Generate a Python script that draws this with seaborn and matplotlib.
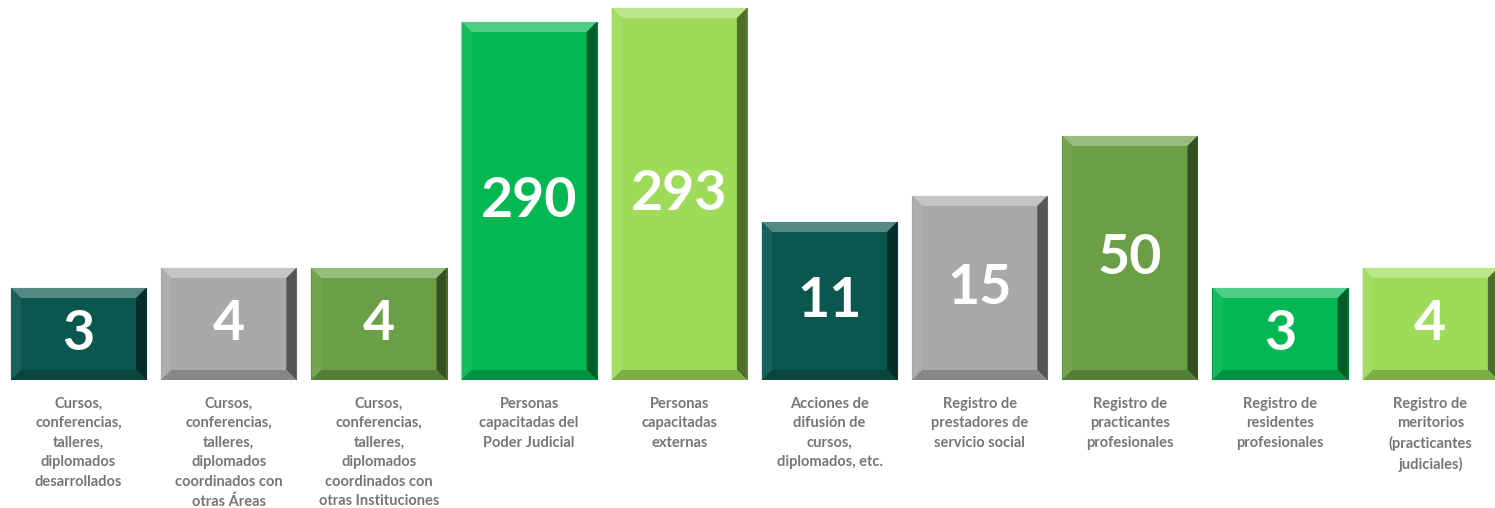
import numpy as np
import pandas as pd
import seaborn as sns
import matplotlib
matplotlib.use("Agg")
import matplotlib.pyplot as plt
from matplotlib.patches import Polygon
from matplotlib.colors import to_rgb

# Categorias (texto de cada barra)
categorias = [
    "Cursos,\nconferencias,\ntalleres,\ndiplomados\ndesarrollados",
    "Cursos,\nconferencias,\ntalleres,\ndiplomados\ncoordinados con\notras Áreas",
    "Cursos,\nconferencias,\ntalleres,\ndiplomados\ncoordinados con\notras Instituciones",
    "Personas\ncapacitadas del\nPoder Judicial",
    "Personas\ncapacitadas\nexternas",
    "Acciones de\ndifusión de\ncursos,\ndiplomados, etc.",
    "Registro de\nprestadores de\nservicio social",
    "Registro de\npracticantes\nprofesionales",
    "Registro de\nresidentes\nprofesionales",
    "Registro de\nmeritorios\n(practicantes\njudiciales)",
]

# Valores que se muestran dentro de cada barra
valores = [3, 4, 4, 290, 293, 11, 15, 50, 3, 4]

# Altura visual de cada barra (la grafica original no es proporcional),
# leida de la imagen en unidades arbitrarias
altura_visual = [92, 112, 112, 358, 372, 158, 184, 244, 92, 112]

# Paleta: se repiten 5 colores
colores = ["#0a574f", "#a9a9a9", "#6a9f46", "#03b752", "#9edb59",
           "#0a574f", "#a9a9a9", "#6a9f46", "#03b752", "#9edb59"]

df = pd.DataFrame({"categoria": categorias, "altura": altura_visual, "valor": valores})


def mezclar(c, otro, t):
    # mezcla lineal entre dos colores
    a = np.array(to_rgb(c))
    b = np.array(to_rgb(otro))
    return tuple(a * (1 - t) + b * t)


sns.set_style("white")
plt.rcParams["font.family"] = ["Lato", "DejaVu Sans"]

fig = plt.figure(figsize=(14.95, 5.08), dpi=100)
# Ejes ocupando todo el ancho, base de las barras a 128 px del borde inferior
ax = fig.add_axes([0, 128 / 508, 1, 380 / 508])

sns.barplot(data=df, x="categoria", y="altura", hue="categoria",
            palette=colores, width=0.9, legend=False, saturation=1,
            linewidth=0, ax=ax)

ax.set_xlim(-0.523, 9.431)
ax.set_ylim(0, 380)

# Efecto "bisel" en cada barra
px_x = 150.2  # pixeles por unidad en x
bisel = 10
for patch, col, val in zip(ax.patches, colores, valores):
    x0 = patch.get_x()
    w = patch.get_width()
    h = patch.get_height()
    x1 = x0 + w
    bx = bisel / px_x
    by = bisel

    arriba = Polygon([(x0, h), (x1, h), (x1 - bx, h - by), (x0 + bx, h - by)],
                     closed=True, facecolor=mezclar(col, "white", 0.3), lw=0)
    izq = Polygon([(x0, h), (x0 + bx, h - by), (x0 + bx, by), (x0, 0)],
                  closed=True, facecolor=mezclar(col, "white", 0.06), lw=0)
    der = Polygon([(x1, h), (x1, 0), (x1 - bx, by), (x1 - bx, h - by)],
                  closed=True, facecolor=mezclar(col, "black", 0.5), lw=0)
    abajo = Polygon([(x0, 0), (x1, 0), (x1 - bx, by), (x0 + bx, by)],
                    closed=True, facecolor=mezclar(col, "black", 0.2), lw=0)
    for p in (arriba, izq, der, abajo):
        ax.add_patch(p)
    # borde fino oscuro
    patch.set_edgecolor(mezclar(col, "black", 0.35))
    patch.set_linewidth(0.8)

    # numero en el centro de la barra
    ax.text(x0 + w / 2, h / 2, str(val), ha="center", va="center",
            color="white", fontsize=40, fontweight="bold")

# Etiquetas de categoria debajo de cada barra
ax.tick_params(axis="x", length=0, pad=12)
ax.set_xticks(range(len(categorias)))
ax.set_xticklabels(categorias, fontsize=10.5, fontweight="bold", color="#767676",
                   linespacing=1.5, va="top", ha="center")
ax.set_xlabel("")
ax.set_ylabel("")
ax.set_yticks([])
sns.despine(ax=ax, left=True, bottom=True)

fig.savefig("out.png", dpi=100, facecolor="white")
